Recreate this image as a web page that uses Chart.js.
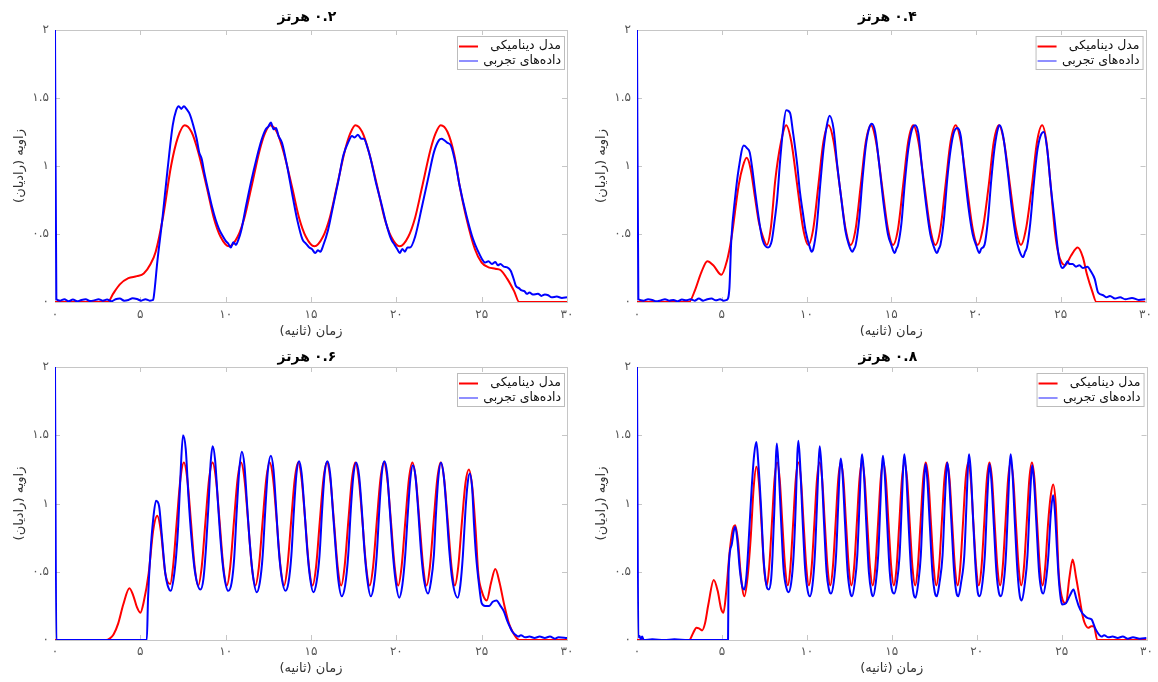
<!DOCTYPE html>
<html>
<head>
<meta charset="utf-8">
<script src="https://cdn.jsdelivr.net/npm/chart.js@4.4.0/dist/chart.umd.min.js"></script>
<style>
  body { margin: 0; background: #fff; width: 1158px; height: 682px; overflow: hidden; position: relative; }
  canvas { position: absolute; }
</style>
</head>
<body>
<canvas id="c1" width="580" height="340" style="left:0;top:0"></canvas>
<canvas id="c2" width="578" height="340" style="left:580px;top:0"></canvas>
<canvas id="c3" width="580" height="342" style="left:0;top:340px"></canvas>
<canvas id="c4" width="578" height="342" style="left:580px;top:340px"></canvas>
<script>
// tick labels and texts
const xTickLabels = ['۰', '۵', '۱۰', '۱۵', '۲۰', '۲۵', '۳۰'];
const yTickLabels = ['۰', '۰.۵', '۱', '۱.۵', '۲'];
const titleNums = ['۰.۲', '۰.۴', '۰.۶', '۰.۸'];
const titleUnit = 'هرتز';
const seriesNames = ['مدل دینامیکی', 'داده‌های تجربی'];
const xTitle = 'زمان (ثانیه)';
const yTitle = 'زاویه (رادیان)';

// [time s, angle rad]
const model02 = [[0,0],[3.1,0],[3.4,0.06],[3.8,0.13],[4.3,0.175],[4.8,0.19],[5.2,0.21],[5.6,0.28],[5.9,0.37],[6.35,0.64],[6.8,1.0],[7.2,1.21],[7.6,1.30],[8.0,1.25],[8.4,1.10],[8.9,0.84],[9.3,0.62],[9.7,0.48],[10.2,0.41],[10.7,0.48],[11.1,0.62],[11.5,0.84],[12.0,1.12],[12.3,1.24],[12.6,1.30],[13.0,1.25],[13.4,1.10],[13.9,0.84],[14.3,0.62],[14.7,0.48],[15.2,0.41],[15.7,0.48],[16.1,0.62],[16.5,0.84],[17.0,1.12],[17.3,1.24],[17.6,1.30],[18.0,1.25],[18.4,1.10],[18.9,0.84],[19.3,0.62],[19.7,0.48],[20.2,0.41],[20.7,0.48],[21.1,0.62],[21.5,0.84],[22.0,1.12],[22.3,1.24],[22.6,1.30],[23.0,1.25],[23.4,1.08],[23.7,0.86],[24.1,0.62],[24.6,0.39],[25.0,0.29],[25.4,0.255],[25.8,0.245],[26.1,0.235],[26.5,0.17],[26.9,0.08],[27.2,0],[30,0]];
const exp02 = [[0,2.0],[0.08,0.02],[0.3,0.01],[0.55,0.02],[0.8,0.005],[1.05,0.018],[1.3,0.005],[1.55,0.015],[1.8,0.02],[2.05,0.008],[2.3,0.012],[2.55,0.02],[2.8,0.01],[3.05,0.018],[3.3,0.005],[3.55,0.02],[3.8,0.025],[4.05,0.01],[4.3,0.015],[4.55,0.028],[4.8,0.022],[5.05,0.01],[5.3,0.02],[5.55,0.01],[5.75,0.015],[5.8,0.05],[6.0,0.3],[6.3,0.62],[6.6,0.98],[6.9,1.3],[7.1,1.41],[7.25,1.44],[7.4,1.42],[7.55,1.44],[7.7,1.42],[7.9,1.38],[8.1,1.3],[8.3,1.2],[8.45,1.1],[8.6,1.05],[8.75,0.95],[8.96,0.83],[9.2,0.7],[9.4,0.61],[9.6,0.54],[9.8,0.49],[10.0,0.45],[10.15,0.43],[10.3,0.40],[10.45,0.44],[10.6,0.42],[10.75,0.46],[10.9,0.52],[11.2,0.71],[11.5,0.89],[11.8,1.05],[12.1,1.19],[12.35,1.27],[12.5,1.29],[12.65,1.32],[12.8,1.27],[12.95,1.28],[13.1,1.22],[13.3,1.17],[13.6,1.0],[13.95,0.76],[14.2,0.6],[14.5,0.46],[14.7,0.43],[14.9,0.40],[15.05,0.39],[15.25,0.36],[15.4,0.38],[15.55,0.37],[15.7,0.41],[16.0,0.53],[16.3,0.71],[16.6,0.89],[16.9,1.08],[17.2,1.18],[17.4,1.22],[17.55,1.21],[17.75,1.23],[17.95,1.20],[18.1,1.2],[18.3,1.14],[18.5,1.05],[18.8,0.88],[19.15,0.71],[19.4,0.58],[19.7,0.46],[19.9,0.42],[20.05,0.39],[20.2,0.36],[20.35,0.39],[20.5,0.37],[20.65,0.40],[20.8,0.40],[21.1,0.48],[21.5,0.70],[21.9,0.93],[22.2,1.10],[22.5,1.19],[22.65,1.20],[22.8,1.19],[23.0,1.17],[23.2,1.15],[23.5,1.0],[23.7,0.86],[24.1,0.64],[24.5,0.46],[24.8,0.37],[25.0,0.32],[25.2,0.29],[25.4,0.30],[25.6,0.28],[25.8,0.295],[25.95,0.27],[26.1,0.28],[26.3,0.26],[26.5,0.255],[26.7,0.23],[26.9,0.16],[27.0,0.12],[27.2,0.10],[27.35,0.085],[27.5,0.08],[27.65,0.06],[27.8,0.07],[28.0,0.055],[28.3,0.06],[28.5,0.045],[28.7,0.055],[28.9,0.05],[29.1,0.035],[29.4,0.04],[29.7,0.03],[30,0.035]];

const model04 = [[0,0],[3.07,0],[3.4,0.08],[3.8,0.22],[4.15,0.30],[4.5,0.27],[4.98,0.20],[5.3,0.30],[5.56,0.46],[6.0,0.86],[6.25,1.0],[6.47,1.06],[6.7,0.98],[6.97,0.76],[7.2,0.58],[7.4,0.49],[7.66,0.42],[7.9,0.55],[8.16,0.90],[8.5,1.18],[8.8,1.30],[9.1,1.18],[9.45,0.86],[9.8,0.54],[10.1,0.42],[10.4,0.54],[10.7,0.86],[11.0,1.18],[11.3,1.30],[11.6,1.18],[11.95,0.86],[12.3,0.54],[12.6,0.42],[12.9,0.54],[13.2,0.86],[13.5,1.18],[13.8,1.30],[14.1,1.18],[14.45,0.86],[14.8,0.54],[15.1,0.42],[15.4,0.54],[15.7,0.86],[16.0,1.18],[16.3,1.30],[16.6,1.18],[16.95,0.86],[17.3,0.54],[17.6,0.42],[17.9,0.54],[18.2,0.86],[18.5,1.18],[18.8,1.30],[19.1,1.18],[19.45,0.86],[19.8,0.54],[20.1,0.42],[20.4,0.54],[20.75,0.86],[21.05,1.18],[21.35,1.30],[21.65,1.18],[22.0,0.86],[22.35,0.54],[22.65,0.42],[22.95,0.54],[23.3,0.86],[23.6,1.18],[23.9,1.30],[24.15,1.18],[24.4,0.86],[24.65,0.52],[24.85,0.36],[25.05,0.29],[25.26,0.27],[25.6,0.34],[26.0,0.40],[26.3,0.33],[26.55,0.2],[26.85,0.08],[27.1,0],[30,0]];
const exp04 = [[0,2.0],[0.08,0.02],[0.4,0.01],[0.65,0.02],[0.9,0.015],[1.15,0.005],[1.4,0.012],[1.65,0.02],[1.9,0.01],[2.15,0.015],[2.4,0.005],[2.65,0.018],[2.9,0.012],[3.15,0.02],[3.4,0.01],[3.65,0.025],[3.9,0.01],[4.15,0.02],[4.4,0.025],[4.65,0.012],[4.9,0.02],[5.1,0.01],[5.3,0.015],[5.45,0.1],[5.56,0.45],[5.8,0.78],[6.0,0.98],[6.3,1.15],[6.5,1.13],[6.65,1.10],[6.8,0.98],[6.97,0.81],[7.2,0.6],[7.4,0.46],[7.73,0.40],[7.95,0.45],[8.1,0.58],[8.27,0.76],[8.45,1.05],[8.6,1.25],[8.8,1.41],[9.03,1.39],[9.2,1.25],[9.46,1.0],[9.6,0.82],[9.78,0.66],[9.95,0.52],[10.2,0.40],[10.3,0.37],[10.4,0.39],[10.6,0.55],[10.8,0.85],[11.0,1.12],[11.2,1.3],[11.36,1.37],[11.6,1.27],[11.8,1.02],[12.05,0.76],[12.3,0.52],[12.5,0.42],[12.7,0.37],[12.8,0.39],[12.9,0.42],[13.1,0.6],[13.3,0.9],[13.5,1.15],[13.7,1.28],[13.85,1.31],[14.05,1.25],[14.3,1.0],[14.55,0.72],[14.8,0.5],[15.0,0.42],[15.2,0.36],[15.3,0.39],[15.4,0.42],[15.6,0.58],[15.8,0.88],[16.0,1.12],[16.2,1.26],[16.4,1.30],[16.6,1.24],[16.8,1.0],[17.05,0.72],[17.3,0.5],[17.5,0.41],[17.7,0.36],[17.8,0.39],[17.9,0.42],[18.1,0.6],[18.3,0.9],[18.5,1.12],[18.7,1.25],[18.9,1.28],[19.1,1.22],[19.3,0.98],[19.55,0.7],[19.8,0.5],[20.0,0.42],[20.2,0.36],[20.3,0.39],[20.5,0.42],[20.7,0.6],[20.9,0.9],[21.1,1.14],[21.3,1.28],[21.4,1.30],[21.6,1.22],[21.85,0.98],[22.1,0.7],[22.35,0.48],[22.55,0.38],[22.77,0.33],[22.9,0.37],[23.0,0.4],[23.2,0.58],[23.4,0.86],[23.6,1.1],[23.8,1.22],[24.0,1.25],[24.2,1.12],[24.4,0.86],[24.6,0.64],[24.9,0.32],[25.1,0.25],[25.26,0.27],[25.4,0.30],[25.5,0.28],[25.7,0.28],[25.9,0.26],[26.1,0.27],[26.3,0.25],[26.56,0.26],[26.8,0.22],[27.0,0.17],[27.2,0.07],[27.5,0.05],[27.7,0.035],[27.9,0.045],[28.2,0.025],[28.5,0.035],[28.8,0.02],[29.2,0.03],[29.6,0.015],[30,0.02]];

const model06 = [[0,0],[3.0,0],[3.2,0.01],[3.43,0.04],[3.7,0.12],[4.0,0.26],[4.36,0.38],[4.6,0.32],[4.8,0.24],[5.0,0.20],[5.2,0.28],[5.49,0.49],[5.75,0.8],[5.99,0.91],[6.2,0.8],[6.46,0.49],[6.75,0.41],[6.92,0.54],[7.13,0.86],[7.35,1.18],[7.55,1.30],[7.75,1.18],[7.97,0.86],[8.18,0.54],[8.39,0.40],[8.6,0.54],[8.81,0.86],[9.03,1.18],[9.23,1.30],[9.43,1.18],[9.65,0.86],[9.86,0.54],[10.07,0.40],[10.27,0.54],[10.48,0.86],[10.7,1.18],[10.9,1.30],[11.1,1.18],[11.32,0.86],[11.53,0.54],[11.74,0.40],[11.95,0.54],[12.16,0.86],[12.38,1.18],[12.58,1.30],[12.78,1.18],[13.0,0.86],[13.21,0.54],[13.42,0.40],[13.62,0.54],[13.83,0.86],[14.05,1.18],[14.25,1.30],[14.45,1.18],[14.67,0.86],[14.88,0.54],[15.09,0.40],[15.3,0.54],[15.51,0.86],[15.73,1.18],[15.93,1.30],[16.13,1.18],[16.35,0.86],[16.56,0.54],[16.77,0.40],[16.97,0.54],[17.18,0.86],[17.4,1.18],[17.6,1.30],[17.8,1.18],[18.02,0.86],[18.23,0.54],[18.44,0.40],[18.64,0.54],[18.85,0.86],[19.07,1.18],[19.27,1.30],[19.47,1.18],[19.69,0.86],[19.9,0.54],[20.11,0.40],[20.31,0.54],[20.52,0.86],[20.74,1.18],[20.94,1.30],[21.14,1.18],[21.36,0.86],[21.57,0.54],[21.77,0.40],[21.97,0.54],[22.18,0.86],[22.4,1.18],[22.6,1.30],[22.8,1.18],[23.02,0.86],[23.23,0.54],[23.43,0.40],[23.63,0.54],[23.84,0.86],[24.05,1.15],[24.25,1.25],[24.45,1.12],[24.65,0.8],[24.8,0.49],[25.0,0.36],[25.3,0.29],[25.55,0.42],[25.8,0.52],[26.05,0.42],[26.3,0.27],[26.6,0.12],[26.86,0.05],[27.2,0],[30,0]];
const exp06 = [[0,2.0],[0.08,0],[5.38,0],[5.45,0.3],[5.6,0.65],[5.75,0.88],[5.92,1.02],[6.1,0.98],[6.25,0.78],[6.46,0.49],[6.6,0.40],[6.79,0.36],[6.95,0.45],[7.1,0.62],[7.22,0.84],[7.35,1.2],[7.5,1.50],[7.66,1.40],[7.82,1.05],[8.0,0.74],[8.2,0.5],[8.52,0.37],[8.7,0.45],[8.85,0.68],[9.0,1.0],[9.12,1.3],[9.24,1.42],[9.38,1.32],[9.55,1.0],[9.72,0.7],[9.9,0.48],[10.15,0.36],[10.35,0.42],[10.5,0.6],[10.65,0.95],[10.8,1.25],[10.95,1.38],[11.1,1.28],[11.25,1.0],[11.42,0.7],[11.6,0.47],[11.82,0.35],[12.0,0.42],[12.17,0.62],[12.32,0.95],[12.48,1.25],[12.65,1.35],[12.8,1.25],[12.95,0.98],[13.1,0.68],[13.28,0.46],[13.5,0.36],[13.68,0.42],[13.85,0.62],[14.0,0.95],[14.15,1.22],[14.3,1.31],[14.45,1.22],[14.62,0.95],[14.78,0.66],[14.95,0.45],[15.14,0.35],[15.32,0.42],[15.5,0.62],[15.65,0.95],[15.8,1.22],[15.96,1.31],[16.12,1.22],[16.28,0.95],[16.45,0.66],[16.6,0.44],[16.8,0.32],[17.0,0.40],[17.18,0.62],[17.33,0.95],[17.48,1.2],[17.65,1.30],[17.82,1.2],[17.98,0.95],[18.13,0.66],[18.3,0.44],[18.5,0.32],[18.68,0.40],[18.85,0.62],[19.0,0.95],[19.15,1.22],[19.3,1.31],[19.46,1.22],[19.62,0.95],[19.78,0.66],[19.95,0.44],[20.17,0.31],[20.35,0.40],[20.52,0.62],[20.67,0.92],[20.82,1.18],[20.97,1.28],[21.12,1.2],[21.28,0.95],[21.44,0.66],[21.62,0.44],[21.86,0.34],[22.02,0.42],[22.2,0.62],[22.32,0.92],[22.47,1.2],[22.62,1.30],[22.78,1.2],[22.94,0.95],[23.1,0.66],[23.28,0.44],[23.6,0.31],[23.75,0.40],[23.9,0.62],[24.05,0.95],[24.18,1.15],[24.3,1.22],[24.45,1.1],[24.55,0.85],[24.67,0.62],[24.85,0.4],[25.0,0.27],[25.2,0.25],[25.44,0.25],[25.65,0.28],[25.87,0.29],[26.1,0.25],[26.3,0.21],[26.5,0.14],[26.64,0.10],[26.8,0.06],[26.96,0.04],[27.15,0.025],[27.3,0.035],[27.55,0.02],[27.8,0.025],[28.1,0.015],[28.4,0.025],[28.7,0.015],[29.0,0.025],[29.3,0.01],[29.5,0.02],[30,0.015]];

const model08 = [[0,0],[3.07,0],[3.3,0.05],[3.5,0.09],[3.65,0.085],[3.83,0.07],[4.0,0.12],[4.2,0.26],[4.52,0.44],[4.75,0.36],[4.95,0.23],[5.09,0.20],[5.25,0.35],[5.45,0.64],[5.62,0.8],[5.78,0.84],[5.95,0.72],[6.1,0.49],[6.32,0.32],[6.5,0.45],[6.69,0.74],[6.87,1.12],[7.03,1.27],[7.18,1.15],[7.33,0.85],[7.48,0.53],[7.64,0.40],[7.78,0.53],[7.94,0.85],[8.1,1.18],[8.25,1.30],[8.4,1.18],[8.56,0.85],[8.72,0.53],[8.88,0.40],[9.03,0.53],[9.19,0.85],[9.35,1.18],[9.5,1.30],[9.65,1.18],[9.81,0.85],[9.97,0.53],[10.12,0.40],[10.28,0.53],[10.44,0.85],[10.6,1.18],[10.75,1.30],[10.9,1.18],[11.06,0.85],[11.22,0.53],[11.38,0.40],[11.53,0.53],[11.69,0.85],[11.85,1.18],[12.0,1.30],[12.15,1.18],[12.31,0.85],[12.47,0.53],[12.62,0.40],[12.78,0.53],[12.94,0.85],[13.1,1.18],[13.25,1.30],[13.4,1.18],[13.56,0.85],[13.72,0.53],[13.88,0.40],[14.03,0.53],[14.19,0.85],[14.35,1.18],[14.5,1.30],[14.65,1.18],[14.81,0.85],[14.97,0.53],[15.12,0.40],[15.28,0.53],[15.44,0.85],[15.6,1.18],[15.75,1.30],[15.9,1.18],[16.06,0.85],[16.22,0.53],[16.38,0.40],[16.53,0.53],[16.69,0.85],[16.85,1.18],[17.0,1.30],[17.15,1.18],[17.31,0.85],[17.47,0.53],[17.62,0.40],[17.78,0.53],[17.94,0.85],[18.1,1.18],[18.25,1.30],[18.4,1.18],[18.56,0.85],[18.72,0.53],[18.88,0.40],[19.03,0.53],[19.19,0.85],[19.35,1.18],[19.5,1.30],[19.65,1.18],[19.81,0.85],[19.97,0.53],[20.12,0.40],[20.28,0.53],[20.44,0.85],[20.6,1.18],[20.75,1.30],[20.9,1.18],[21.06,0.85],[21.22,0.53],[21.38,0.40],[21.53,0.53],[21.69,0.85],[21.85,1.18],[22.0,1.30],[22.15,1.18],[22.31,0.85],[22.47,0.53],[22.62,0.40],[22.78,0.53],[22.94,0.85],[23.1,1.18],[23.25,1.30],[23.4,1.18],[23.56,0.85],[23.72,0.53],[23.88,0.40],[24.03,0.53],[24.2,0.85],[24.35,1.05],[24.5,1.14],[24.65,1.0],[24.83,0.49],[25.0,0.32],[25.26,0.27],[25.45,0.45],[25.65,0.59],[25.85,0.46],[26.0,0.35],[26.2,0.2],[26.34,0.13],[26.56,0.09],[26.75,0.10],[26.9,0.10],[27.1,0],[30,0]];
const exp08 = [[0,2.0],[0.08,0.02],[0.15,0.03],[0.22,0.005],[0.3,0.025],[0.4,0],[0.9,0.005],[1.6,0],[2.2,0.005],[3.0,0],[4.0,0],[5.36,0],[5.39,0.49],[5.56,0.69],[5.7,0.8],[5.78,0.83],[5.9,0.74],[6.05,0.52],[6.2,0.39],[6.32,0.37],[6.45,0.48],[6.6,0.78],[6.75,1.11],[6.9,1.36],[7.03,1.45],[7.13,1.32],[7.3,0.98],[7.45,0.6],[7.62,0.40],[7.75,0.37],[7.9,0.45],[7.98,0.62],[8.1,1.0],[8.18,1.34],[8.23,1.44],[8.33,1.28],[8.48,0.88],[8.63,0.52],[8.8,0.38],[8.92,0.35],[9.08,0.42],[9.22,0.62],[9.35,1.0],[9.44,1.36],[9.5,1.46],[9.6,1.3],[9.75,0.88],[9.9,0.52],[10.05,0.36],[10.18,0.32],[10.33,0.4],[10.47,0.62],[10.6,1.0],[10.7,1.32],[10.76,1.42],[10.86,1.27],[11.01,0.86],[11.16,0.5],[11.3,0.37],[11.42,0.34],[11.58,0.42],[11.72,0.62],[11.85,1.0],[11.94,1.26],[12.0,1.33],[12.1,1.22],[12.25,0.85],[12.4,0.5],[12.55,0.35],[12.66,0.32],[12.82,0.42],[12.97,0.62],[13.1,1.0],[13.19,1.28],[13.25,1.36],[13.35,1.24],[13.5,0.85],[13.65,0.5],[13.8,0.35],[13.9,0.32],[14.06,0.42],[14.2,0.62],[14.33,1.0],[14.42,1.27],[14.48,1.35],[14.58,1.23],[14.73,0.85],[14.88,0.5],[15.02,0.36],[15.14,0.34],[15.3,0.42],[15.46,0.62],[15.59,1.0],[15.68,1.28],[15.74,1.36],[15.84,1.24],[15.99,0.85],[16.14,0.5],[16.28,0.34],[16.4,0.31],[16.56,0.42],[16.71,0.62],[16.84,1.0],[16.93,1.22],[16.99,1.29],[17.09,1.18],[17.24,0.84],[17.39,0.5],[17.53,0.35],[17.65,0.32],[17.81,0.42],[17.99,0.62],[18.12,1.0],[18.21,1.23],[18.27,1.30],[18.37,1.19],[18.52,0.84],[18.67,0.5],[18.8,0.35],[18.92,0.32],[19.08,0.42],[19.27,0.62],[19.4,1.0],[19.49,1.28],[19.55,1.36],[19.65,1.24],[19.8,0.85],[19.95,0.5],[20.06,0.35],[20.18,0.32],[20.34,0.42],[20.48,0.62],[20.61,1.0],[20.7,1.22],[20.76,1.29],[20.86,1.18],[21.01,0.84],[21.16,0.5],[21.3,0.35],[21.43,0.32],[21.59,0.42],[21.72,0.62],[21.85,1.0],[21.94,1.28],[22.0,1.36],[22.1,1.24],[22.25,0.85],[22.4,0.5],[22.54,0.32],[22.66,0.29],[22.82,0.4],[22.99,0.62],[23.12,1.0],[23.21,1.21],[23.27,1.28],[23.37,1.17],[23.52,0.84],[23.67,0.5],[23.8,0.37],[23.92,0.34],[24.06,0.42],[24.22,0.62],[24.36,0.92],[24.5,1.06],[24.6,0.95],[24.72,0.68],[24.83,0.45],[24.95,0.3],[25.04,0.26],[25.26,0.27],[25.5,0.33],[25.7,0.37],[25.85,0.31],[26.0,0.25],[26.2,0.2],[26.34,0.18],[26.55,0.16],[26.77,0.15],[26.9,0.11],[27.0,0.08],[27.2,0.04],[27.35,0.025],[27.5,0.035],[27.75,0.02],[28.0,0.025],[28.3,0.015],[28.6,0.025],[28.9,0.01],[29.2,0.02],[29.6,0.01],[30,0.015]];

const toXY = arr => arr.map(p => ({x: p[0], y: p[1]}));

// matlab style box, inner ticks, title and legend
const axesDecor = {
  id: 'axesDecor',
  beforeDatasetsDraw(chart) {
    const {ctx, chartArea: a, scales} = chart;
    ctx.save();
    ctx.strokeStyle = '#c6c6c6';
    ctx.lineWidth = 1;
    ctx.strokeRect(Math.round(a.left) + 0.5, Math.round(a.top) + 0.5, Math.round(a.width), Math.round(a.height));
    ctx.beginPath();
    for (let v = 0; v <= 30; v += 5) {
      const x = Math.round(scales.x.getPixelForValue(v)) + 0.5;
      ctx.moveTo(x, a.bottom); ctx.lineTo(x, a.bottom - 5);
      ctx.moveTo(x, a.top); ctx.lineTo(x, a.top + 5);
    }
    for (let v = 0; v <= 2; v += 0.5) {
      const y = Math.round(scales.y.getPixelForValue(v)) + 0.5;
      ctx.moveTo(a.left, y); ctx.lineTo(a.left + 5, y);
      ctx.moveTo(a.right, y); ctx.lineTo(a.right - 5, y);
    }
    ctx.stroke();
    ctx.restore();
  },
  afterDraw(chart, args, opts) {
    const {ctx, chartArea: a} = chart;
    ctx.save();
    // title in right-to-left order: unit on the left, number on the right
    ctx.fillStyle = '#000';
    ctx.font = 'bold 14px "DejaVu Sans"';
    ctx.textAlign = 'left';
    ctx.textBaseline = 'middle';
    const wNum = ctx.measureText(opts.num).width;
    const wUnit = ctx.measureText(titleUnit).width;
    const gap = 4;
    const x0 = (a.left + a.right) / 2 - 4 - (wNum + gap + wUnit) / 2;
    ctx.fillText(titleUnit, x0, 17);
    ctx.fillText(opts.num, x0 + wUnit + gap, 17);
    // legend
    const bx = a.right - 110, by = a.top + 6, bw = 107, bh = 33;
    ctx.fillStyle = '#fff';
    ctx.fillRect(bx, by, bw, bh);
    ctx.strokeStyle = '#bcbcbc';
    ctx.lineWidth = 1;
    ctx.strokeRect(bx + 0.5, by + 0.5, bw, bh);
    const colors = ['#ff0000', '#4444ff'];
    const widths = [2, 1.2];
    ctx.font = '12.5px "DejaVu Sans"';
    ctx.textAlign = 'right';
    seriesNames.forEach((name, i) => {
      const y = by + 10 + i * 14.5;
      ctx.strokeStyle = colors[i];
      ctx.lineWidth = widths[i];
      ctx.beginPath();
      ctx.moveTo(bx + 2, y + 0.5); ctx.lineTo(bx + 21, y + 0.5);
      ctx.stroke();
      ctx.fillStyle = '#111';
      ctx.fillText(name, bx + bw - 3, y);
    });
    ctx.restore();
  }
};

function makeChart(id, idx, model, exp, opt) {
  const ctx = document.getElementById(id).getContext('2d');
  return new Chart(ctx, {
    type: 'line',
    data: {
      datasets: [
        {
          label: seriesNames[0],
          data: toXY(model),
          borderColor: '#ff0000',
          borderWidth: 2,
          pointRadius: 0,
          cubicInterpolationMode: 'monotone',
          order: 2
        },
        {
          label: seriesNames[1],
          data: toXY(exp),
          borderColor: '#0000ff',
          borderWidth: 2,
          pointRadius: 0,
          cubicInterpolationMode: 'monotone',
          order: 1
        }
      ]
    },
    options: {
      responsive: false,
      animation: false,
      layout: { padding: { left: 0, right: opt.padRight, top: opt.padTop, bottom: 0 } },
      plugins: {
        legend: { display: false },
        tooltip: { enabled: false },
        axesDecor: { num: titleNums[idx] }
      },
      scales: {
        x: {
          type: 'linear',
          min: 0,
          max: 30,
          grid: { display: false, drawTicks: false },
          border: { display: false },
          afterFit: s => { s.height = opt.xHeight; },
          ticks: {
            stepSize: 5,
            autoSkip: false,
            maxRotation: 0,
            padding: opt.xTickPad,
            color: '#555',
            font: { family: 'DejaVu Sans', size: 12 },
            callback: v => xTickLabels[Math.round(v / 5)]
          },
          title: {
            display: true,
            text: '\u200F' + xTitle + '\u200F',
            color: '#333',
            font: { family: 'DejaVu Sans', size: 13 },
            padding: { top: 0, bottom: opt.xTitlePad }
          }
        },
        y: {
          min: 0,
          max: 2,
          grid: { display: false, drawTicks: false },
          border: { display: false },
          afterFit: s => { s.width = opt.yWidth; },
          ticks: {
            stepSize: 0.5,
            padding: 6,
            color: '#555',
            font: { family: 'DejaVu Sans', size: 12 },
            callback: v => yTickLabels[Math.round(v * 2)]
          },
          title: {
            display: true,
            text: '\u200F' + yTitle + '\u200F',
            color: '#333',
            font: { family: 'DejaVu Sans', size: 13 },
            padding: { top: opt.yTitlePad, bottom: 0 }
          }
        }
      }
    },
    plugins: [axesDecor]
  });
}

const topOpt = { padTop: 30, xHeight: 38, xTickPad: 6, xTitlePad: 1 };
const botOpt = { padTop: 27, xHeight: 42, xTickPad: 5, xTitlePad: 6 };

makeChart('c1', 0, model02, exp02, Object.assign({ padRight: 13, yWidth: 55, yTitlePad: 12 }, topOpt));
makeChart('c2', 1, model04, exp04, Object.assign({ padRight: 9, yWidth: 57, yTitlePad: 14 }, topOpt));
makeChart('c3', 2, model06, exp06, Object.assign({ padRight: 13, yWidth: 55, yTitlePad: 12 }, botOpt));
makeChart('c4', 3, model08, exp08, Object.assign({ padRight: 9, yWidth: 57, yTitlePad: 14 }, botOpt));
</script>
</body>
</html>
